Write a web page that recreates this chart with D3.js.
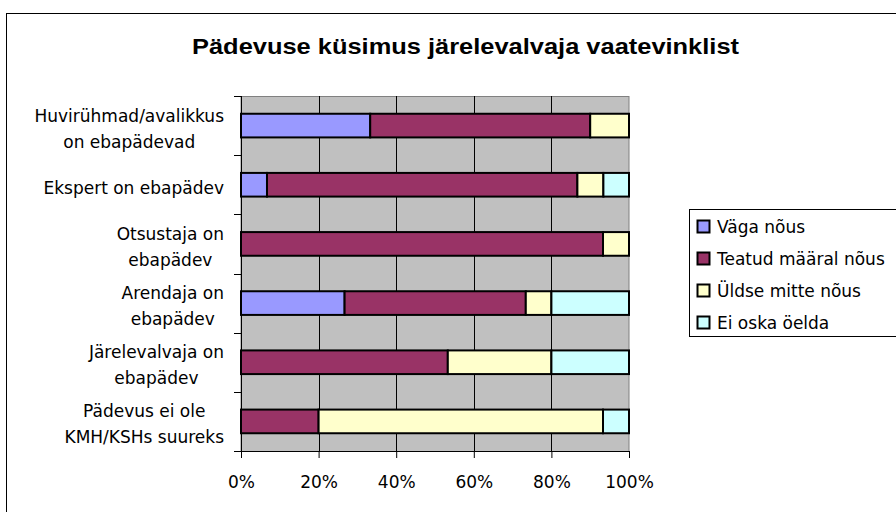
<!DOCTYPE html>
<html>
<head>
<meta charset="utf-8">
<script src="https://cdn.jsdelivr.net/npm/d3@7"></script>
<style>
  body { margin: 0; background: #fff; }
  svg { display: block; }
</style>
</head>
<body>
<svg width="896" height="512"></svg>
<script>
// Kategooriad (ülevalt alla) ja vastuste osakaalud protsentides
var categories = [
  ["Huvirühmad/avalikkus", "on ebapädevad"],
  ["Ekspert on ebapädev"],
  ["Otsustaja on", "ebapädev"],
  ["Arendaja on", "ebapädev"],
  ["Järelevalvaja on", "ebapädev"],
  ["Pädevus ei ole", "KMH/KSHs suureks"]
];
var vagaNous     = [33.3, 6.7, 0, 26.7, 0, 0];
var teatudMaaral = [56.7, 80.0, 93.3, 46.7, 53.3, 20.0];
var uldseMitte   = [10.0, 6.7, 6.7, 6.6, 26.7, 73.3];
var eiOska       = [0, 6.6, 0, 20.0, 20.0, 6.7];
var seriesNames = ["Väga nõus", "Teatud määral nõus", "Üldse mitte nõus", "Ei oska öelda"];
var colors = ["#9999FF", "#993366", "#FFFFCC", "#CCFFFF"];
var xTicks = [0, 20, 40, 60, 80, 100];
var title = "Pädevuse küsimus järelevalvaja vaatevinklist";

var keys = ["v", "t", "u", "e"];
var data = categories.map(function(c, i) {
  return { cat: i, v: vagaNous[i], t: teatudMaaral[i], u: uldseMitte[i], e: eiOska[i] };
});

var svg = d3.select("svg");
var labelFont = "DejaVu Sans, Verdana, sans-serif";

// raam ümber kogu diagrammi
svg.append("rect")
  .attr("x", 6.5).attr("y", 13.5)
  .attr("width", 1000).attr("height", 600)
  .attr("fill", "#fff").attr("stroke", "#000");

svg.append("text")
  .attr("x", 465.5).attr("y", 54)
  .attr("text-anchor", "middle")
  .attr("font-family", "Liberation Sans, Arial, sans-serif")
  .attr("font-weight", "bold")
  .attr("font-size", 22)
  .attr("textLength", 547)
  .attr("lengthAdjust", "spacingAndGlyphs")
  .text(title);

var pLeft = 241, pRight = 629, pTop = 96, pBottom = 451;

var x = d3.scaleLinear().domain([0, 100]).range([pLeft, pRight]);
var y = d3.scaleBand()
  .domain(d3.range(categories.length))
  .range([pTop, pBottom])
  .paddingInner(0.6).paddingOuter(0.3);

var g = svg.append("g");

// plot area
g.append("rect")
  .attr("x", pLeft).attr("y", pTop + 0.5)
  .attr("width", pRight - pLeft).attr("height", pBottom - pTop)
  .attr("fill", "#C0C0C0").attr("stroke", "#808080");

// vertical gridlines
g.append("g").selectAll("line")
  .data(xTicks.slice(1, -1))
  .enter().append("line")
  .attr("x1", function(d) { return Math.round(x(d)) + 0.5; })
  .attr("x2", function(d) { return Math.round(x(d)) + 0.5; })
  .attr("y1", pTop).attr("y2", pBottom)
  .attr("stroke", "#000").attr("stroke-width", 1);

// bars
var stack = d3.stack().keys(keys)(data);
g.append("g").selectAll("g")
  .data(stack)
  .enter().append("g")
  .attr("fill", function(d, i) { return colors[i]; })
  .selectAll("rect")
  .data(function(d) { return d.filter(function(p) { return p[1] - p[0] > 0; }); })
  .enter().append("rect")
  .attr("x", function(d) { return x(d[0]); })
  .attr("y", function(d) { return y(d.data.cat); })
  .attr("width", function(d) { return x(d[1]) - x(d[0]); })
  .attr("height", y.bandwidth())
  .attr("stroke", "#000")
  .attr("stroke-width", 2);

// x axis
var xAxis = d3.axisBottom(x)
  .tickValues(xTicks)
  .tickFormat(function(d) { return d + "%"; })
  .tickSize(7).tickPadding(18);
var xa = g.append("g")
  .attr("transform", "translate(0," + pBottom + ")")
  .call(xAxis);
xa.select(".domain").attr("stroke", "#000").attr("d", "M" + pLeft + ",0.5H" + pRight);
xa.selectAll("text")
  .attr("font-family", labelFont)
  .attr("font-size", 17)
  .attr("fill", "#000");

// y axis with ticks at band boundaries
var yTickPos = d3.range(categories.length + 1).map(function(i) {
  return pTop + i * (pBottom - pTop) / categories.length;
});
g.append("line")
  .attr("x1", pLeft + 0.5).attr("x2", pLeft + 0.5)
  .attr("y1", pTop).attr("y2", pBottom)
  .attr("stroke", "#000");
g.append("g").selectAll("line")
  .data(yTickPos)
  .enter().append("line")
  .attr("x1", pLeft - 7).attr("x2", pLeft)
  .attr("y1", function(d) { return Math.round(d) + 0.5; })
  .attr("y2", function(d) { return Math.round(d) + 0.5; })
  .attr("stroke", "#000");

// y labels, multi-line, centred per block, block right edge aligned
var labels = g.append("g")
  .attr("font-family", labelFont)
  .attr("font-size", 17)
  .attr("fill", "#000");
categories.forEach(function(lines, i) {
  var cy = y(i) + y.bandwidth() / 2 + 3;
  var lh = 26;
  var t = labels.append("text").attr("text-anchor", "middle");
  lines.forEach(function(s, j) {
    t.append("tspan")
      .attr("y", cy + (j - (lines.length - 1) / 2) * lh)
      .attr("dy", "0.35em")
      .text(s);
  });
  var w = 0;
  t.selectAll("tspan").each(function() { w = Math.max(w, this.getComputedTextLength()); });
  t.selectAll("tspan").attr("x", 224 - w / 2);
});

// legend
var lg = svg.append("g");
lg.append("rect")
  .attr("x", 689.5).attr("y", 209.5)
  .attr("width", 300).attr("height", 127)
  .attr("fill", "#fff").attr("stroke", "#000");
var items = lg.selectAll("g.item")
  .data(seriesNames)
  .enter().append("g")
  .attr("transform", function(d, i) { return "translate(697," + (227 + i * 32) + ")"; });
items.append("rect")
  .attr("x", 0.5).attr("y", -6.5)
  .attr("width", 12).attr("height", 12)
  .attr("fill", function(d, i) { return colors[i]; })
  .attr("stroke", "#000").attr("stroke-width", 2);
items.append("text")
  .attr("x", 20).attr("dy", "0.35em")
  .attr("font-family", labelFont)
  .attr("font-size", 17)
  .text(function(d) { return d; });
</script>
</body>
</html>
